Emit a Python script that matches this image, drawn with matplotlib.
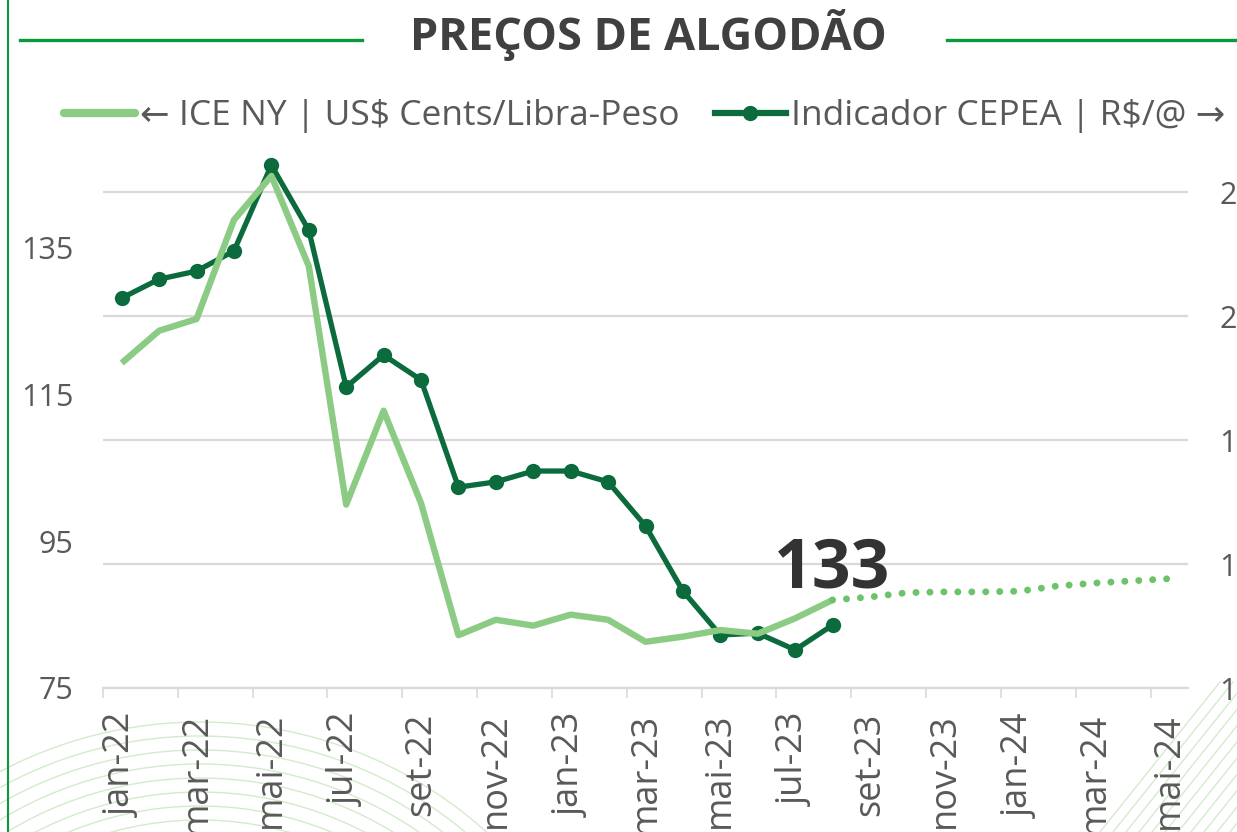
import numpy as np
import matplotlib
matplotlib.use("Agg")
import matplotlib.pyplot as plt
from matplotlib.lines import Line2D
from matplotlib.patches import Arc

plt.rcParams['font.family'] = ['Open Sans', 'DejaVu Sans']

# data
months = ['jan', 'fev', 'mar', 'abr', 'mai', 'jun', 'jul', 'ago', 'set', 'out', 'nov', 'dez']
labels = [f'{m}-22' for m in months] + [f'{m}-23' for m in months] + [f'{m}-24' for m in months[:5]]

ice = [119.3, 123.7, 125.3, 138.8, 144.8, 132.5, 100.0, 112.8, 100.2, 82.2,
       84.3, 83.5, 85.0, 84.3, 81.3, 82.0, 82.9, 82.4, 84.5, 87.0]
ice_fut = [87.0, 87.4, 88.0, 88.1, 88.1, 88.2, 88.9, 89.3, 89.6, 89.9]
cepea = [235.8, 241.9, 244.5, 251.0, 278.7, 257.7, 207.1, 217.4, 209.4, 174.8,
         176.5, 180.0, 180.0, 176.5, 162.3, 141.3, 127.1, 127.7, 122.3, 130.3]
left_ticks = [75, 95, 115, 135]
right_ticks = [110, 150, 190, 230, 270]
last_label = '133'

c_ice = '#8ccb84'
c_fut = '#6cc36a'
c_cepea = '#0b6b3c'
c_text = '#595959'
c_green = '#0a9a3c'
c_deco = '#d3ebcc'

fig = plt.figure(figsize=(12.37, 8.32), dpi=100)

# background decoration
for r in range(330, 430, 14):
    fig.add_artist(Arc((200/1237, 1-1150/832), 2*r/1237, 2*r/832, theta1=20, theta2=160,
                       color=c_deco, lw=1.0, transform=fig.transFigure, zorder=0))
for k in range(12):
    x0 = 1100 + k*13
    fig.add_artist(Line2D([x0/1237, (x0+120)/1237], [0, 150/832], color=c_deco, lw=1.0, zorder=0))

ax = fig.add_axes([103/1237, 1-688/832, (1188-103)/1237, (688-140)/832])
ax2 = ax.twinx()

x = np.arange(len(labels))
n_ice = len(ice)
ax.plot(x[:n_ice], ice, color=c_ice, lw=4.6, solid_capstyle='butt', zorder=3)
ax.plot(x[n_ice-1:n_ice-1+len(ice_fut)], ice_fut, color=c_fut, lw=5,
        linestyle=(0, (0.01, 2.0)), dash_capstyle='round', zorder=3)
ax2.plot(x[:len(cepea)], cepea, color=c_cepea, lw=3.8, marker='o', ms=10, zorder=4)

ax.annotate(last_label, (x[n_ice-1], ice[-1]), xytext=(0, 12), textcoords='offset pixels',
            ha='center', va='baseline', fontsize=49, fontweight='bold', color='#333333')

ax.set_xlim(-0.5, len(labels)-0.5)
ax.set_ylim(75, 149.7)
ax2.set_ylim(110, 286.8)

ax.set_yticks(left_ticks)
ax.tick_params(axis='y', length=0, pad=21, labelsize=22, labelcolor=c_text)
ax2.set_yticks(right_ticks)
ax2.tick_params(axis='y', length=0, pad=22.5, labelsize=22, labelcolor=c_text)
ax2.yaxis.grid(True, color='#d9d9d9', lw=1.6)
ax2.set_axisbelow(True)
ax.set_zorder(ax2.get_zorder()+1)
ax.patch.set_visible(False)
ax2.patch.set_visible(False)

ax.set_xticks(x[::2])
ax.set_xticklabels(labels[::2], rotation=90, fontsize=26, color=c_text)
ax.set_xticks(np.arange(-0.5, len(labels), 2), minor=True)
ax.tick_params(axis='x', which='major', length=0, pad=18)
ax.tick_params(axis='x', which='minor', length=7, width=1.2, color='#d9d9d9', direction='out')

for a in (ax, ax2):
    for s in ('top', 'left', 'right', 'bottom'):
        a.spines[s].set_visible(False)
ax.spines['bottom'].set_visible(True)
ax.spines['bottom'].set_color('#d9d9d9')
ax.spines['bottom'].set_linewidth(1.6)

# title
fig.text(648/1237, 1-35/832, 'PREÇOS DE ALGODÃO', ha='center', va='center',
         fontsize=32.5, fontweight='bold', color='#404040')
fig.add_artist(Line2D([20/1237, 362/1237], [1-40/832]*2, color=c_green, lw=2.4))
fig.add_artist(Line2D([947/1237, 1.0], [1-40/832]*2, color=c_green, lw=2.4))
fig.add_artist(Line2D([8/1237]*2, [0, 1], color=c_green, lw=1.5))

# legend
h1 = Line2D([], [], color=c_ice, lw=6, solid_capstyle='round')
h2 = Line2D([], [], color=c_cepea, lw=4.5, marker='o', ms=10)
fig.legend([h1, h2], ['← ICE NY | US$ Cents/Libra-Peso', 'Indicador CEPEA | R$/@ →'],
           loc='center left', bbox_to_anchor=(32/1237, 1-116/832), ncol=2, frameon=False,
           fontsize=25.5, labelcolor=c_text, handlelength=2.0, handletextpad=0.15,
           columnspacing=1.0)

fig.savefig('out.png', dpi=100)
